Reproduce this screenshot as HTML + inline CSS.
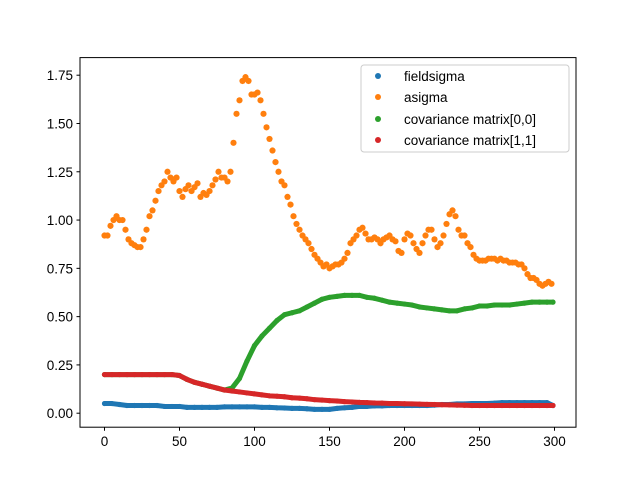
<!DOCTYPE html>
<html><head><meta charset="utf-8"><style>
body{margin:0;background:#fff;}
svg{display:block;font-family:"Liberation Sans","DejaVu Sans",sans-serif;}
</style></head><body>
<svg id="chart" width="640" height="480" xmlns="http://www.w3.org/2000/svg">
<rect x="0" y="0" width="640" height="480" fill="#fff"/>
<g id="marks"></g>
<rect x="80" y="57.6" width="496" height="369.6" fill="none" stroke="#000" stroke-width="1"/>
<g id="axes"></g>
<g>
<rect x="361" y="65" width="208" height="87" rx="3" fill="#fff" fill-opacity="0.8" stroke="#ccc"/>
<g><circle cx="378" cy="76" r="3" fill="#1f77b4"/><text x="404" y="81" font-size="13.5">fieldsigma</text></g>
<g><circle cx="378" cy="97" r="3" fill="#ff7f0e"/><text x="404" y="102" font-size="13.5">asigma</text></g>
<g><circle cx="378" cy="119" r="3" fill="#2ca02c"/><text x="404" y="124" font-size="13.5">covariance matrix[0,0]</text></g>
<g><circle cx="378" cy="140" r="3" fill="#d62728"/><text x="404" y="145" font-size="13.5">covariance matrix[1,1]</text></g>
</g>
</svg>
<script>
const xTicks=[0,50,100,150,200,250,300];
const yTicks=[0,0.25,0.5,0.75,1.0,1.25,1.5,1.75];
const yTickLabels=["0.00","0.25","0.50","0.75","1.00","1.25","1.50","1.75"];
const asigma=[0.92,0.92,0.97,1.00,1.02,1.00,1.00,0.95,0.90,0.88,0.87,0.86,0.86,0.90,0.95,1.02,1.05,1.10,1.15,1.18,1.20,1.25,1.22,1.20,1.22,1.15,1.12,1.16,1.18,1.15,1.17,1.19,1.12,1.14,1.13,1.15,1.18,1.21,1.25,1.22,1.22,1.20,1.25,1.40,1.55,1.62,1.72,1.74,1.72,1.65,1.65,1.66,1.62,1.55,1.48,1.42,1.36,1.30,1.25,1.20,1.18,1.12,1.08,1.02,0.98,0.95,0.92,0.90,0.88,0.85,0.82,0.80,0.78,0.76,0.77,0.75,0.76,0.77,0.77,0.78,0.80,0.83,0.88,0.90,0.92,0.95,0.96,0.93,0.90,0.90,0.91,0.90,0.88,0.90,0.91,0.92,0.90,0.89,0.84,0.83,0.90,0.93,0.92,0.88,0.85,0.83,0.88,0.92,0.95,0.95,0.90,0.86,0.88,0.92,0.98,1.03,1.05,1.02,0.95,0.92,0.92,0.88,0.86,0.82,0.80,0.79,0.79,0.79,0.80,0.80,0.80,0.79,0.80,0.79,0.79,0.78,0.78,0.78,0.77,0.77,0.75,0.72,0.70,0.70,0.69,0.67,0.66,0.67,0.68,0.67];
const fieldsigma=[0.05,0.05,0.045,0.04,0.04,0.04,0.04,0.04,0.035,0.035,0.035,0.03,0.03,0.03,0.03,0.03,0.033,0.033,0.033,0.033,0.033,0.03,0.03,0.028,0.027,0.025,0.025,0.023,0.02,0.02,0.02,0.025,0.028,0.03,0.035,0.035,0.038,0.038,0.04,0.04,0.04,0.04,0.04,0.04,0.042,0.045,0.045,0.048,0.048,0.05,0.05,0.05,0.052,0.055,0.055,0.055,0.055,0.055,0.055,0.055,0.04];
const cov00=[0.20,0.20,0.20,0.20,0.20,0.20,0.20,0.20,0.20,0.20,0.195,0.175,0.16,0.15,0.14,0.13,0.12,0.13,0.18,0.27,0.35,0.40,0.44,0.48,0.51,0.52,0.53,0.55,0.57,0.59,0.60,0.605,0.61,0.61,0.61,0.60,0.595,0.585,0.575,0.57,0.565,0.56,0.55,0.545,0.54,0.535,0.53,0.53,0.54,0.545,0.555,0.555,0.56,0.56,0.56,0.565,0.57,0.575,0.575,0.575,0.575];
const cov11=[0.20,0.20,0.20,0.20,0.20,0.20,0.20,0.20,0.20,0.20,0.195,0.175,0.16,0.15,0.14,0.13,0.12,0.115,0.11,0.105,0.10,0.095,0.09,0.088,0.085,0.08,0.078,0.075,0.07,0.068,0.065,0.063,0.06,0.058,0.056,0.055,0.053,0.052,0.05,0.05,0.049,0.048,0.047,0.046,0.045,0.044,0.043,0.042,0.041,0.04,0.04,0.04,0.04,0.04,0.04,0.04,0.04,0.04,0.04,0.04,0.04];
const NS="http://www.w3.org/2000/svg";
function sx(v){return 104.5+v*(450/300);}
function sy(v){return 413.2-v*(338/1.75);}
const marks=document.getElementById('marks');
const axes=document.getElementById('axes');
function series(vals,step,color,name,line){
  const g=document.createElementNS(NS,'g');
  
  
  if(line){
    const p=document.createElementNS(NS,'polyline');
    p.setAttribute('points',vals.map((v,i)=>sx(Math.min(i*step,299))+','+sy(v)).join(' '));
    p.setAttribute('fill','none');p.setAttribute('stroke',color);p.setAttribute('stroke-width','5');
    p.setAttribute('stroke-linecap','round');p.setAttribute('stroke-linejoin','round');
    
    
    g.appendChild(p);
  }
  vals.forEach((v,i)=>{
    const c=document.createElementNS(NS,'circle');
    c.setAttribute('cx',sx(Math.min(i*step,299)));c.setAttribute('cy',sy(v));c.setAttribute('r',line?2.6:3.1);c.setAttribute('fill',color);
    
    
    g.appendChild(c);
  });
  marks.appendChild(g);
}
series(fieldsigma,5,'#1f77b4','fieldsigma-series',true);
series(asigma,2,'#ff7f0e','asigma-series',false);
series(cov00,5,'#2ca02c','cov00-series',true);
series(cov11,5,'#d62728','cov11-series',true);
xTicks.forEach(t=>{
  const l=document.createElementNS(NS,'line');
  l.setAttribute('x1',sx(t));l.setAttribute('x2',sx(t));l.setAttribute('y1',427.2);l.setAttribute('y2',430.7);l.setAttribute('stroke','#000');
  
  
  axes.appendChild(l);
  const tx=document.createElementNS(NS,'text');
  tx.setAttribute('x',sx(t));tx.setAttribute('y',446);tx.setAttribute('text-anchor','middle');tx.setAttribute('font-size','13.5');
  tx.textContent=String(t);
  
  
  axes.appendChild(tx);
});
yTicks.forEach((t,i)=>{
  const l=document.createElementNS(NS,'line');
  l.setAttribute('x1',76.5);l.setAttribute('x2',80);l.setAttribute('y1',sy(t));l.setAttribute('y2',sy(t));l.setAttribute('stroke','#000');
  
  
  axes.appendChild(l);
  const tx=document.createElementNS(NS,'text');
  tx.setAttribute('x',73);tx.setAttribute('y',sy(t)+5);tx.setAttribute('text-anchor','end');tx.setAttribute('font-size','13.5');
  tx.textContent=yTickLabels[i];
  
  
  axes.appendChild(tx);
});
</script>
</body></html>
